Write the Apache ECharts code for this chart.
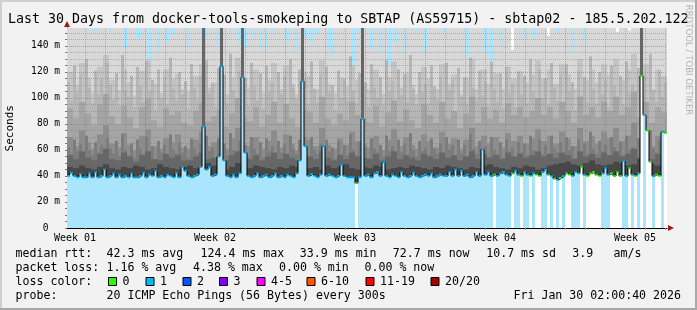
<!DOCTYPE html>
<html><head><meta charset="utf-8">
<script src="https://cdn.jsdelivr.net/npm/echarts@6/dist/echarts.min.js"></script>
<style>html,body{margin:0;padding:0;background:#f2f2f2}#c{width:697px;height:310px}</style>
</head><body><div id="c"></div>
<script>
// ---------- data ----------
const titleText = 'Last 30 Days from docker-tools-smokeping to SBTAP (AS59715) - sbtap02 - 185.5.202.122';
const weekLabels = ['Week 01','Week 02','Week 03','Week 04','Week 05'];
const weekPos = [0.4, 7.4, 14.4, 21.4, 28.4];           // days from graph start
const yTickStep = 20;
const YMAX = 153.846;                                    // ms at top of graph

// median rtt (ms), one value per 3.6 h column (200 columns)
const median = [
40,42.5,40,39,41.5,39,39,42,39,43, 39,40,45,39,40,42,39,41,39,40,
39,42,39,39,40,42.5,39,41,40,44, 39,40,39,41,40,39,42.5,39,47,44,
40,39,40,41,47,78,45,47,40,41, 55,124.4,52,40,39,41,39,42,116,58,
40,39,40,42,39,40,41,39,40,42, 39,40,39,41,40,39,42,52,113,63,
40,41.5,40,39,41,63,40,41,40,39, 40,48.5,40,39,39,39,34.5,39,84,40,
41,39,42,43,40,50.5,40,39,41,40, 39,43,40,39,40,42.5,40,39,40,41,
40,42,39,40,41,40,40,43,40,45, 40,44,40,41,39,40,43,40,60.5,41,
43,40,41,40,42,43,41,40,42,44, 41,40,43,41,40,42,41,40,43,44.6,
41,40,38,37,38.5,40,42,41,40,43, 42,47,41,40,42,43,41,40,42,46,
41,42,40,43,40,51.5,40,46,41,40, 42,117,87,75,51,40,41,40,74,73];

// packet loss class per column (0 = none, 1 = 1/20)
const loss = [
1,1,1,1,1,1,1,1,1,1, 1,1,1,1,1,1,1,1,1,1,
1,1,1,1,1,1,1,1,1,1, 1,1,1,1,1,1,1,1,1,1,
1,1,1,1,1,1,1,1,1,1, 1,1,1,1,1,1,1,1,1,1,
1,1,1,1,1,1,1,1,1,1, 1,1,1,1,1,1,1,1,1,1,
1,1,1,1,1,1,1,1,1,1, 1,1,1,1,1,1,0,1,1,1,
1,1,1,1,1,1,1,1,1,1, 1,1,1,1,1,1,1,1,1,1,
1,1,1,1,1,1,1,1,1,1, 1,1,1,1,1,1,1,1,1,1,
1,1,0,1,1,1,1,1,0,1, 1,0,1,1,0,1,0,0,1,1,
0,1,0,1,0,1,0,0,1,1, 1,0,1,0,0,0,0,0,1,1,
1,0,0,0,0,1,1,0,1,0, 1,0,1,0,0,1,0,0,1,0];

// top of the lightest smoke layer per column (ms; >= YMAX means it reaches the top)
const smokeTop = [
154,154,154,154,154,154,151,154,154,150, 154,154,154,154,151,154,154,154,154,138,
154,154,154,146,146,154,154,121,154,154, 136,154,154,142,154,149,154,154,154,154,
137,154,154,154,150,154,147,154,154,154, 141,154,154,154,150,154,154,143,154,139,
154,154,146,154,139,154,136,154,150,154, 154,154,154,143,154,154,136,154,154,147,
154,143,154,149,154,154,154,138,131,154, 154,154,154,154,154,118,154,150,154,154,
154,138,154,154,135,154,154,125,154,142, 154,154,135,154,154,154,150,154,154,136,
154,154,154,154,154,150,154,154,154,154, 154,154,154,132,154,154,154,154,154,135,
154,111,154,154,142,154,154,154,137,154, 154,154,147,154,154,147,154,154,154,154,
148,154,154,150,154,154,154,154,135,154, 154,154,142,154,154,154,154,154,154,154,
154,154,154,151,154,154,154,152,154,154, 154,154,154,154,154,154,154,154,154,154];

// fine smoke layers (200 columns): upper-middle and lower-middle greys
const smokeA = [
112,98,125,104,118,92,130,108,96,121, 103,115,90,127,110,99,119,94,133,106,
101,117,93,124,109,97,128,105,114,91, 122,100,116,95,131,107,98,120,103,113,
92,126,108,99,117,95,129,104,111,93, 123,101,118,96,134,106,97,121,102,115,
94,127,109,98,119,92,125,105,112,90, 120,103,117,96,130,108,99,122,101,114,
95,128,107,97,118,93,124,104,110,91, 121,100,115,98,132,106,96,119,103,112,
93,126,108,100,116,94,129,105,113,92, 122,102,118,97,133,107,95,120,104,111,
96,125,109,99,117,93,127,106,114,90, 123,101,116,95,131,108,98,121,102,113,
94,128,107,97,119,92,124,104,111,93, 120,103,117,96,130,105,99,122,100,115,
95,127,108,98,118,94,126,105,112,91, 121,102,116,97,132,107,96,120,103,114,
93,125,109,99,117,95,128,104,110,92, 123,100,118,96,134,106,97,121,101,112];
const smokeB = [
62,57,68,59,65,55,71,60,56,66, 58,64,54,69,61,57,67,55,72,60,
56,65,54,68,61,57,70,59,63,53, 67,58,64,55,72,60,57,66,58,63,
54,69,61,57,65,55,71,59,62,54, 68,58,65,56,73,60,57,67,58,64,
55,70,61,57,66,54,69,59,63,53, 67,58,65,56,71,61,57,68,58,63,
55,70,60,57,65,54,68,59,62,53, 67,57,64,56,72,60,56,66,58,62,
54,69,61,58,64,55,71,59,63,54, 68,58,65,56,73,60,55,67,59,62,
56,69,61,57,65,54,70,60,64,53, 68,57,64,55,72,61,57,67,58,63,
55,70,60,57,66,54,68,59,62,54, 66,58,65,56,71,60,57,68,57,64,
56,71,61,58,66,55,70,60,63,54, 68,58,65,57,74,61,57,67,59,64,
55,70,62,58,66,56,71,60,62,55, 69,58,66,57,75,61,58,68,59,63];

// coarse smoke layers, tops in ms, one value per 7.2 h column (100 columns), darkest first
const smoke0 = [
47,46,48,46,45,47,49,46,45,47, 46,48,47,45,46,49,47,46,45,47,
48,46,47,50,48,45,45,47,50,46, 46,48,47,46,45,47,46,48,47,45,
46,47,45,48,46,47,49,46,45,47, 46,48,47,45,46,47,46,48,47,46,
45,47,46,48,47,46,45,47,46,48, 49,47,46,45,47,46,48,47,45,46,
48,49,50,51,49,48,50,52,49,48, 49,51,50,48,49,53,50,49,48,49];
const smoke1 = [
56,53,59,54,52,57,61,53,52,58, 55,51,56,59,53,52,57,54,56,52,
52,55,58,53,54,57,52,56,59,54, 53,56,52,55,58,53,57,54,52,56,
55,53,59,54,52,56,53,58,55,54, 53,57,52,55,59,53,56,54,52,57,
55,53,58,54,56,52,55,59,53,57, 54,56,53,58,55,57,54,56,59,55,
57,54,58,56,53,59,55,57,54,58, 56,59,55,57,61,54,58,53,57,55];
const smoke2 = [
70,63,75,66,61,72,79,65,62,73, 64,60,71,76,63,61,69,66,72,62,
61,68,74,63,66,70,61,69,77,64, 63,70,61,67,75,62,72,65,60,70,
68,63,77,64,61,69,64,74,67,65, 62,71,60,68,76,63,70,64,61,72,
67,62,74,65,69,61,68,77,63,71, 65,70,62,73,67,71,65,69,76,67,
71,65,74,69,63,77,67,71,65,74, 69,77,67,71,81,65,74,63,71,67];
const smoke3 = [
92,84,97,88,79,95,103,86,80,94, 85,77,93,99,83,78,92,87,90,81,
79,90,96,82,86,91,78,88,100,85, 82,93,78,87,97,81,95,84,78,91,
89,81,101,84,79,88,83,97,87,84, 81,94,78,89,98,82,91,83,77,95,
87,81,97,84,90,77,88,101,81,93, 84,91,81,96,87,93,85,90,100,87,
93,84,97,90,81,101,87,93,85,97, 90,101,87,93,105,85,97,81,93,89];
const smoke4 = [
120,110,127,116,104,124,133,114,106,122, 112,102,121,129,111,104,122,115,118,107,
105,117,126,108,112,120,103,116,131,112, 108,122,104,114,127,107,125,111,103,120,
117,107,129,111,104,116,109,125,114,111, 107,122,103,116,128,108,119,110,103,124,
115,107,126,111,118,103,116,130,107,122, 111,119,107,124,115,121,112,118,129,115,
122,111,126,118,107,130,114,122,112,126, 118,130,114,122,134,111,126,107,122,117];

// columns where a narrow dark smoke column runs up above a spike
const spikeCols = [45, 51, 58, 78, 98, 191];

// legend
const rttStats = ['42.3','124.4','33.9','72.7','10.7','3.9'];
const lossStats = ['1.16','4.38','0.00','0.00'];
const lossLabels = ['0','1','2','3','4-5','6-10','11-19','20/20'];
const lossColors = ['#26ff00','#00b8ff','#0059ff','#7e00ff','#ff00ff','#ff5500','#ff0000','#a00000'];
const probeText = '20 ICMP Echo Pings (56 Bytes) every 300s';
const stampText = 'Fri Jan 30 02:00:40 2026';

// ---------- chart ----------
const MONO = 'DejaVu Sans Mono';
const FILL = '#a9e5fc';
const cats200 = median.map((_, i) => i);
const cats100 = smoke1.map((_, i) => i);

const barBase = {type:'bar', barGap:'-100%', barCategoryGap:'0%', animation:false, silent:true, yAxisIndex:0, clip:true};
function band(data, axis, color, z) { return Object.assign({}, barBase, {xAxisIndex:axis, data:data, itemStyle:{color:color}, z:z}); }

// grid lines (days / ms)
const vLines = [];
for (let k = 0; k < 30; k++) {
  const d = 0.9 + k + 0.025;
  const major = (k % 7) === 3;
  vLines.push({xAxis: d, lineStyle:{color: major ? 'rgba(225,70,70,0.55)' : 'rgba(120,120,120,0.45)', type:[1,1], width:1}});
}
const hLines = [];
for (let v = 5; v <= 150; v += 5) {
  const py = 228 - 1.3 * v;
  const pyc = Math.round(py - 0.5) + 0.5;
  hLines.push({yAxis: (228 - pyc) / 1.3, lineStyle:{color: (v % 20 === 0) ? 'rgba(225,70,70,0.55)' : 'rgba(120,120,120,0.45)', type:[1,1], width:1}});
}
const dayTicks = [];
for (let k = 0; k < 30; k++) dayTicks.push(0.9 + k);

const graphic = [];
function txt(x, y, s, opt) {
  graphic.push(Object.assign({type:'text', x:x, y:y, silent:true, z:100,
    style:Object.assign({text:s, fill:'#000', font:'11.6px "' + MONO + '"', textAlign:'left', textVerticalAlign:'middle'}, opt||{})}));
}
// frame
graphic.push({type:'rect', shape:{x:0,y:0,width:697,height:2}, style:{fill:'#d0d0d0'}, silent:true, z:100});
graphic.push({type:'rect', shape:{x:0,y:0,width:2,height:310}, style:{fill:'#d0d0d0'}, silent:true, z:100});
graphic.push({type:'rect', shape:{x:0,y:308,width:697,height:2}, style:{fill:'#a8a8a8'}, silent:true, z:100});
graphic.push({type:'rect', shape:{x:695,y:0,width:2,height:310}, style:{fill:'#a8a8a8'}, silent:true, z:100});
// title
txt(8, 19.4, titleText, {font:'13.3px "' + MONO + '"'});
// axis arrows
graphic.push({type:'polygon', shape:{points:[[67,21],[64,27],[70,27]]}, style:{fill:'#9b1c1c'}, silent:true, z:100});
graphic.push({type:'polygon', shape:{points:[[674,228],[668,225],[668,231]]}, style:{fill:'#9b1c1c'}, silent:true, z:100});
// y title
graphic.push({type:'text', x:10.2, y:128.3, rotation:Math.PI/2, silent:true, z:100,
  style:{text:'Seconds', fill:'#000', font:'11px "' + MONO + '"', textAlign:'center', textVerticalAlign:'middle'}});
// watermark
graphic.push({type:'text', x:688, y:60, rotation:-Math.PI/2, silent:true, z:100,
  style:{text:'RRDTOOL / TOBI OETIKER', fill:'#b4b4b4', font:'8.6px "DejaVu Sans"', textAlign:'center', textVerticalAlign:'middle'}});
// legend line 1
const L1 = ['median rtt:', rttStats[0]+' ms avg', rttStats[1]+' ms max', rttStats[2]+' ms min', rttStats[3]+' ms now', rttStats[4]+' ms sd', rttStats[5], 'am/s'];
const L1x = [15.5, 106.5, 200.5, 299.8, 392.8, 486.2, 572.2, 613.5];
L1.forEach((s, i) => txt(L1x[i], 254, s));
const L2 = ['packet loss:', lossStats[0]+' % avg', lossStats[1]+' % max', lossStats[2]+' % min', lossStats[3]+' % now'];
const L2x = [15.5, 106.5, 193, 279, 364.5];
L2.forEach((s, i) => txt(L2x[i], 268, s));
txt(15.5, 282, 'loss color:');
const boxX = [108, 145.5, 182.5, 219, 256.5, 306.5, 365.5, 430.5];
lossLabels.forEach((s, i) => {
  graphic.push({type:'rect', shape:{x:boxX[i]+0.5, y:277.5, width:8, height:8}, style:{fill:lossColors[i], stroke:'#000', lineWidth:1}, silent:true, z:100});
  txt(boxX[i] + 14.5, 282, s);
});
txt(15.5, 296, 'probe:');
txt(106.5, 296, probeText);
txt(681, 296, stampText, {textAlign:'right'});

const option = {
  backgroundColor:'#f2f2f2',
  animation:false,
  grid:{left:67, right:30, top:28, bottom:82, containLabel:false},
  xAxis:[
    {type:'value', min:0, max:30, position:'bottom',
     axisLine:{show:true, onZero:false, lineStyle:{color:'#000', width:1}},
     axisTick:{show:true, customValues:dayTicks, length:2, lineStyle:{color:'#999'}},
     axisLabel:{customValues:weekPos, margin:5, fontFamily:MONO, fontSize:10, color:'#000', lineHeight:10,
       formatter:(v) => weekLabels[Math.round((v - weekPos[0]) / 7)] || ''},
     splitLine:{show:false}},
    {type:'category', data:cats200, show:false, boundaryGap:true},
    {type:'category', data:cats100, show:false, boundaryGap:true}
  ],
  yAxis:[{type:'value', min:0, max:YMAX, interval:5,
    axisLine:{show:true, onZero:false, lineStyle:{color:'#000', width:1}},
    axisTick:{show:true, length:2, lineStyle:{color:'#777'}},
    axisLabel:{margin:7, fontFamily:MONO, fontSize:9.6, color:'#000', showMaxLabel:false,
      formatter:(v) => (Math.abs(v % yTickStep) < 1e-6) ? (v === 0 ? '0  ' : v + ' m') : ''},
    splitLine:{show:false}}],
  series:[
    Object.assign({}, barBase, {xAxisIndex:1, z:1, data: loss.map(l => ({value:YMAX, itemStyle:{color: l ? FILL : '#ffffff'}}))}),
    band(smokeTop, 1, '#d8d8d8', 2),
    band(smoke4, 2, '#c4c4c4', 3),
    band(smokeA, 1, '#b6b6b6', 3.5),
    band(smoke3, 2, '#a5a5a5', 4),
    band(smoke2, 2, '#8c8c8c', 5),
    band(smokeB, 1, '#7c7c7c', 5.5),
    band(smoke1, 2, '#676767', 6),
    band(smoke0, 2, '#474747', 7),
    Object.assign({}, barBase, {xAxisIndex:1, z:8, itemStyle:{color:'#666666'},
      data: cats200.map(i => spikeCols.indexOf(i) >= 0 ? YMAX : '-')}),
    Object.assign({}, barBase, {xAxisIndex:1, z:9,
      data: median.map((v, i) => ({value:v, itemStyle:{color: loss[i] ? FILL : '#ffffff'}}))}),
    {type:'line', xAxisIndex:1, yAxisIndex:0, z:10, data:median, step:'middle', symbol:'none',
      lineStyle:{color:'#000', width:1}, animation:false, silent:true},
    {type:'scatter', xAxisIndex:1, yAxisIndex:0, z:11, symbol:'rect', symbolSize:[3,2], animation:false, silent:true,
      data: median.map((v, i) => ({value:v, itemStyle:{color: loss[i] ? lossColors[1] : lossColors[0]}}))},
    {type:'line', xAxisIndex:0, yAxisIndex:0, z:12, data:[[0,0]], symbol:'none', lineStyle:{opacity:0}, silent:true, animation:false,
      markLine:{silent:true, animation:false, symbol:['none','none'], label:{show:false}, data: vLines.concat(hLines)}}
  ],
  graphic: graphic
};
const chart = echarts.init(document.getElementById('c'), null, {width:697, height:310});
chart.setOption(option);
</script></body></html>
